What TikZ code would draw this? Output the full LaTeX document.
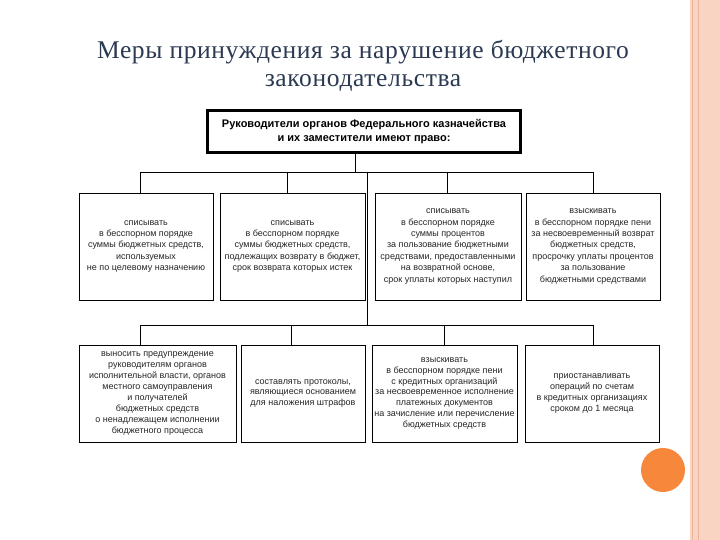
\documentclass[tikz,border=0pt]{standalone}
\usepackage{fontspec}
\setmainfont{Liberation Serif}
\setsansfont{Liberation Sans}
\usepackage{tikz}
\definecolor{titleblue}{HTML}{2B3A52}
\definecolor{peach}{HTML}{FAD4C2}
\definecolor{peachline}{HTML}{EDB49A}
\definecolor{dotorange}{HTML}{F7873A}

\begin{document}
\begin{tikzpicture}[x=1pt,y=-1pt,
  box/.style={draw,line width=0.8pt,align=center,text=black!85,inner sep=1pt,
    font=\sffamily\fontsize{9}{11.4}\selectfont},
  boxtop/.style={minimum height=107pt},
  boxlow/.style={minimum height=97pt,font=\sffamily\fontsize{9}{10.9}\selectfont}]
\useasboundingbox (0,0) rectangle (720,540);
\fill[white] (0,0) rectangle (720,540);
% right stripe and dot
\fill[peach] (690,0) rectangle (720,540);
\draw[peachline,line width=0.6pt] (692.5,0) -- (692.5,540);
\draw[peachline,line width=0.6pt] (698,0) -- (698,540);
\fill[dotorange] (663,470) circle (22);

\node[font=\fontsize{25.5}{28}\selectfont\addfontfeature{LetterSpace=2.5},text=titleblue,align=center] (title) at (363,66)
  {Меры принуждения за нарушение бюджетного\\законодательства};

\node[draw,line width=2.6pt,minimum width=314pt,minimum height=43pt,align=center,
  font=\sffamily\bfseries\fontsize{11}{14.5}\selectfont] (0) at (364,131.5)
  {Руководители органов Федерального казначейства\\и их заместители имеют право:};
\draw[line width=0.6pt] ([shift={(3pt,-3pt)}]0.north west) rectangle ([shift={(-3pt,3pt)}]0.south east);

% first row
\node[box,boxtop,minimum width=134pt] (1) at (146,246.5)
  {списывать\\в бесспорном порядке\\суммы бюджетных средств,\\используемых\\не по целевому назначению};
\node[box,boxtop,minimum width=145pt] (2) at (292.5,246.5)
  {списывать\\в бесспорном порядке\\суммы бюджетных средств,\\подлежащих возврату в бюджет,\\срок возврата которых истек};
\node[box,boxtop,minimum width=146pt] (3) at (448,246.5)
  {списывать\\в бесспорном порядке\\суммы процентов\\за пользование бюджетными\\средствами, предоставленными\\на возвратной основе,\\срок уплаты которых наступил};
\node[box,boxtop,minimum width=134pt] (4) at (593,246.5)
  {взыскивать\\в бесспорном порядке пени\\за несвоевременный возврат\\бюджетных средств,\\просрочку уплаты процентов\\за пользование\\бюджетными средствами};

% second row
\node[box,boxlow,minimum width=157pt] (5) at (157.5,393.5)
  {выносить предупреждение\\руководителям органов\\исполнительной власти, органов\\местного самоуправления\\и получателей\\бюджетных средств\\о ненадлежащем исполнении\\бюджетного процесса};
\node[box,boxlow,minimum width=124pt] (6) at (303,393.5)
  {составлять протоколы,\\являющиеся основанием\\для наложения штрафов};
\node[box,boxlow,minimum width=145pt] (7) at (444.5,393.5)
  {взыскивать\\в бесспорном порядке пени\\с кредитных организаций\\за несвоевременное исполнение\\платежных документов\\на зачисление или перечисление\\бюджетных средств};
\node[box,boxlow,minimum width=134pt] (8) at (592,393.5)
  {приостанавливать\\операций по счетам\\в кредитных организациях\\сроком до 1 месяца};

% connectors
\coordinate (t1) at (355,172);
\coordinate (t2) at (367,172);
\coordinate (t3) at (367,325);
\draw[line width=0.7pt] (0.south -| t1) -- (t1);
\draw[line width=0.7pt] (t2) -- (t3);
\foreach \to/\dx in {1/-6,2/-5.5,3/-1,4/0}
  \draw[line width=0.7pt] ([xshift=\dx pt]\to.north) -- ([xshift=\dx pt]\to.north |- t1);
\foreach \to/\dx in {5/-17.5,6/-12,7/0,8/1}
  \draw[line width=0.7pt] ([xshift=\dx pt]\to.north) -- ([xshift=\dx pt]\to.north |- t3);
\draw[line width=0.7pt] ([xshift=-6pt]1.north |- t1) -- (4.north |- t1);
\draw[line width=0.7pt] ([xshift=-17.5pt]5.north |- t3) -- ([xshift=1pt]8.north |- t3);
\end{tikzpicture}
\end{document}
